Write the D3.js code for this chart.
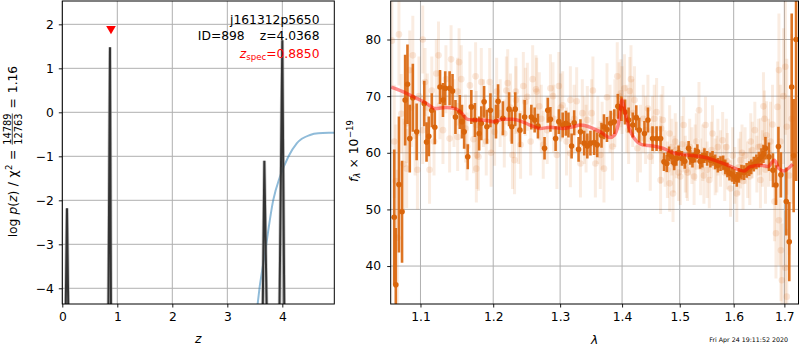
<!DOCTYPE html>
<html><head><meta charset="utf-8">
<script src="https://cdn.jsdelivr.net/npm/d3@7"></script>
<style>
body{margin:0;background:#fff;}
text{font-family:"DejaVu Sans",sans-serif;fill:#000;}
</style></head><body>
<svg id="c" width="800" height="350"></svg>
<script>
// ---------------- data ----------------
// left panel: log p(z)
const pzZ   = [0.00, 0.055, 0.062, 0.085, 0.109, 0.12, 0.83, 0.838, 0.867, 0.885, 0.90, 3.62, 3.644, 3.673, 3.716, 3.73, 3.93, 3.948, 4.00, 4.036, 4.05, 4.95];
const pzLog = [-12, -12, -4.5, -2.18, -4.5, -12, -12, -4.5, 1.48, -4.5, -12, -12, -4.5, -1.10, -4.5, -12, -12, -4.5, 1.64, -4.5, -12, -12];
// left panel: chi2 curve
const chiZ   = [3.45, 3.553, 3.685, 3.836, 3.958, 4.109, 4.262, 4.504, 4.655, 4.927, 4.95];
const chiLog = [-6.0, -4.34, -3.20, -1.99, -1.46, -1.01, -0.705, -0.516, -0.477, -0.464, -0.463];
const zspecZ = 0.885, zspecMark = 1.9;
const zTicks = [0, 1, 2, 3, 4];
const logTicks = [-4, -3, -2, -1, 0, 1, 2];

// right panel: spectrum
const lightLam = [1.063,1.072,1.066,1.070,1.068,1.075,1.078,1.082,1.082,1.086,1.090,1.093,1.096,1.098,
1.103,1.103,1.106,1.109,1.112,1.115,1.118,1.124,1.126,1.130,1.134,1.139,1.141,1.145,1.150,1.150,1.155,1.161,1.163,1.167,1.172,1.175,1.176,1.177,1.179,1.176,
1.183,1.186,1.190,1.195,1.198,1.202,1.205,1.210,1.216,1.221,1.225,1.228,1.231,1.233,1.233,1.237,1.240,1.244,1.250,1.255,1.263,1.264,1.268,1.274,1.280,1.285,1.290,1.295,1.298,
1.304,1.310,1.316,1.316,1.322,1.326,1.332,1.338,1.341,1.343,1.350,1.356,1.360,1.364,1.370,1.375,1.380,1.384,1.388,1.392,1.398,1.400,1.404,1.408,1.411,1.413,1.418,1.421,1.426,1.431,1.436,1.444,1.448,1.452,1.459,1.466,1.466,1.467,1.470,
1.474,1.478,1.482,1.482,1.486,1.488,1.490,1.494,1.498,1.501,1.504,1.507,1.510,1.514,1.518,1.522,1.526,1.530,1.535,1.538,1.542,1.547,1.550,1.554,1.558,1.560,1.565,1.570,1.575,1.579,1.583,1.588,1.594,1.598,1.602,1.606,1.610,1.613,1.618,1.622,1.627,1.631,1.636,1.641,1.645,
1.648,1.652,1.652,1.656,1.658,1.662,1.664,1.668,1.672,1.676,1.680,1.683,1.686,1.689,1.689,1.692,1.693,1.695,1.698,1.702,1.702,1.705,1.705,1.710,1.715,
1.088,1.121,1.152,1.197,1.219,1.247,1.258,1.271,1.289,1.301,1.335,1.352,1.367,1.395,1.415,1.440,1.455,1.492,1.512,1.528,1.544,1.568,1.586,1.616,1.633,1.660];
const lightFlux = [79.8,80.9,62,45,55,66.9,58,65.2,57.2,74.6,77.2,63,57,70,
80.0,64.0,72.5,68,57.0,71,62,77.2,68.4,64,73,62.5,76.5,67,70.8,62.8,73,64.3,61.1,71.9,62.4,73.5,64.9,59.6,59.3,57.2,
72.5,67,62,72.5,66,63.7,70.8,67,63.4,72.3,68,59.6,58.7,70.8,69.3,64,61.4,71.8,69.9,62,71.2,70.8,68.2,61.4,64,71.4,66,59.6,71.8,
68.4,62,69.3,59.9,66,69.1,58.1,64,62.5,65.8,67,58.1,64,59.6,57.2,69.8,66,61.1,67,73.5,70.5,69.3,71.4,66,64.0,70.9,67,69.3,60.8,62.5,66,67.8,59.3,64,67.2,60.5,55.2,64.3,65.8,
59,57,63.4,54.6,61,52.8,58,60.5,56.5,55.8,61.5,64.9,58,56.5,61,59.5,55.8,62,67.5,57.5,60,64.9,57,55.2,60.5,63.4,57.5,61,59,62.2,56.5,58.5,53.7,59.5,56,52.8,57.5,58.7,55,59.5,57,55.8,60.5,64.0,58,
61,61.1,55.2,59,68.2,57,63.1,60,62,65,51.4,45.8,68.1,74.6,48.1,62,42.8,37.5,70,75.2,39.7,64.6,34.6,56,66,
68,74,76,60,71,69,73,66,70,68,67,71,63,70,73,64,66,62,57,60,56,58,61,60,62,66];
const lightErr = [8,9,10,12,10,7,8,7,7,7,7,7,7,7,
6,6,6,6,6,6,6,6,6,6,6,6,6,6,6,6,6,6,6,6,6,6,6,6,6,6,
6,6,6,6,6,6,6,6,6,6,6,6,6,6,6,6,6,6,6,6,6,6,6,6,6,6,6,6,6,
6,6,6,6,6,6,6,6,6,6,6,6,6,6,6,6,6,6,6,6,6,6,6,6,6,6,6,6,6,6,6,6,6,6,6,6,6,6,6,
5,5,5,5,5,5,5,5,5,5,5,5,5,5,5,5,5,5,5,5,5,5,5,5,5,5,5,5,5,5,5,5,5,5,5,5,5,5,5,5,5,5,5,5,5,
5,5,5,5,6,6,6,6,7,7,7,8,8,10,8,10,9,10,12,12,10,12,12,14,15,
7,6,6,6,6,6,6,6,6,6,6,6,6,6,6,6,6,5,5,5,5,5,5,5,5,5];

const binLam = [1.066,1.068,1.072,1.076,1.080,1.083,1.086,1.090,1.095,1.105,1.108,1.111,1.115,1.119,1.126,1.130,1.133,1.139,1.143,1.147,1.153,1.156,1.159,1.164,1.169,1.174,1.180,1.183,1.187,1.191,1.196,1.204,1.207,1.214,1.223,1.227,1.232,1.239,1.246,
1.256,1.261,1.266,1.276,1.281,1.285,1.293,1.298,1.304,1.309,1.313,1.318,1.322,1.329,1.332,1.338,1.343,1.348,1.354,1.359,1.366,1.370,1.375,1.381,1.387,1.393,1.399,1.405,1.411,1.418,1.424,1.429,1.438,1.444,1.452,1.459,1.466,
1.472,1.477,1.481,1.486,1.490,1.494,1.498,1.504,1.509,1.516,1.519,1.523,1.528,1.532,1.537,1.541,1.545,1.550,1.556,1.560,1.565,1.570,1.575,1.580,1.584,1.588,1.592,1.597,1.601,1.606,1.610,1.615,1.620,1.625,1.630,1.634,1.639,1.644,1.649,1.654,1.658,
1.662,1.669,1.677,1.683,1.688,1.693,1.704,1.710,1.715,1.719,1.724];
const binFlux = [48.6,36.7,54.4,49.6,69.3,72.1,62.5,69.7,63.7,68.7,61.9,62.9,67.5,64.5,71.6,69.3,71.4,71.4,70.9,66.3,67.2,65.5,63.7,59.3,68.1,65.8,63.4,65.2,69.0,64.6,67.5,65.5,69.1,66.1,67.7,64.6,67.7,64.0,66.3,
66.3,65.8,64.7,60.8,67.5,65.9,62.5,65.5,64.9,65.2,64.9,61.2,65.3,60.6,63.7,61.7,61.2,61.7,61.8,61.4,63.1,64.6,64.1,65.2,65.5,68.2,67.8,67.2,65.8,64.9,66.2,64.0,63.4,65.8,62.5,62.5,62.5,
58.4,58.1,59.8,59.3,58.2,59.0,60.0,59.0,58.5,60.8,59.2,58.7,59.6,60.2,58.5,58.7,59.5,59.0,58.7,59.0,58.4,57.8,58.1,58.2,57.5,57.0,56.4,56.2,55.8,55.3,56.0,56.6,56.5,56.9,57.2,57.5,58.0,58.4,58.8,59.3,59.8,
60.8,59.3,56.9,54.3,61.1,56.1,51.4,44.3,71.6,59.5,80];
const binErr = [12,10,12,9,8,7,6,6,5,4,3.5,3.5,3,3,3,3,3,3,3,3,3,3,3,2.2,3,3,3,3,2.8,3,3,3,3,3,3,3,3,3,3,
2.2,2.2,2.2,2,2.2,2.2,2.2,2.2,2.2,2.2,2.2,2.2,2.2,2.2,2.2,2.2,2.2,2.2,2.2,2.2,2.2,2.2,2.2,2.2,2.2,2.2,2.2,2.2,2.2,2.2,2.2,2.2,2.2,2.2,2.2,2.2,2.2,
1.6,1.5,1.3,1.3,1.3,1.3,1.3,1.3,1.3,1.3,1.3,1.3,1.3,1.3,1.3,1.3,1.3,1.3,1.3,1.3,1.3,1.3,1.3,1.3,1.3,1.3,1.3,1.3,1.3,1.3,1.3,1.3,1.3,1.3,1.3,1.3,1.3,1.3,1.4,1.5,1.6,
2,2.5,3,3.5,3.5,4,6,7,13,10,25];

const modelLam  = [1.062,1.077,1.095,1.107,1.120,1.134,1.147,1.154,1.164,1.174,1.185,1.200,1.214,1.228,1.242,1.254,1.269,1.285,1.304,1.320,1.332,1.348,1.364,1.380,1.387,1.394,1.400,1.405,1.411,1.421,1.435,1.452,1.470,1.488,1.513,1.545,1.563,1.589,1.620,1.631,1.652,1.667,1.680,1.689,1.698,1.717];
const modelFlux = [71.6,70.8,69.6,68.8,67.8,68.0,67.8,67.2,65.9,65.8,65.8,65.5,65.9,65.9,65.5,64.9,64.3,64.5,64.3,64.6,64.9,64.5,63.7,62.7,63.1,65.2,69.3,67.2,64.6,62.5,61.4,61.2,60.8,60.0,59.6,59.2,58.7,57.8,56.8,57.5,57.8,57.6,58.7,57.2,56.8,58.0];
const lamTicks  = [1.1, 1.2, 1.3, 1.4, 1.5, 1.6, 1.7];
const fluxTicks = [40, 50, 60, 70, 80];

// ---------------- drawing ----------------
const svg = d3.select('#c');
const FS = 12.3;
const L = {x0: 62.3, x1: 334.3, y0: 1, y1: 304};
const R = {x0: 390.7, x1: 798.5, y0: 1, y1: 304};

const xz = d3.scaleLinear().domain([0, 4.945]).range([L.x0, L.x1]);
const yz = d3.scaleLinear().domain([-4.357, 2.53]).range([L.y1, L.y0]);
const xl = d3.scaleLog().domain([1.0615, 1.729]).range([R.x0, R.x1]);
const yf = d3.scaleLinear().domain([33.3, 86.8]).range([R.y1, R.y0]);

const defs = svg.append('defs');
defs.append('clipPath').attr('id','clipL').append('rect')
  .attr('x', L.x0).attr('y', L.y0).attr('width', L.x1-L.x0).attr('height', L.y1-L.y0);
defs.append('clipPath').attr('id','clipR').append('rect')
  .attr('x', R.x0).attr('y', R.y0).attr('width', R.x1-R.x0).attr('height', R.y1-R.y0);

function grid(box, xs, ys, xt, yt) {
  const g = svg.append('g');
  g.selectAll('.gx').data(xt).join('line')
    .attr('x1', d => xs(d)).attr('x2', d => xs(d)).attr('y1', box.y0).attr('y2', box.y1)
    .attr('stroke', '#b0b0b0').attr('stroke-width', 1);
  g.selectAll('.gy').data(yt).join('line')
    .attr('y1', d => ys(d)).attr('y2', d => ys(d)).attr('x1', box.x0).attr('x2', box.x1)
    .attr('stroke', '#b0b0b0').attr('stroke-width', 1);
}
grid(L, xz, yz, zTicks, logTicks);
grid(R, xl, yf, lamTicks, fluxTicks);

// ---- left panel marks
const gL = svg.append('g').attr('clip-path', 'url(#clipL)');
const chiData = chiZ.map((z, i) => [z, chiLog[i]]);
gL.append('path').datum(chiData)
  .attr('d', d3.line().x(d => xz(d[0])).y(d => yz(d[1])).curve(d3.curveMonotoneX))
  .attr('fill', 'none').attr('stroke', '#1f77b4').attr('stroke-opacity', 0.5).attr('stroke-width', 2);
const pzData = pzZ.map((z, i) => [z, pzLog[i]]);
gL.append('path').datum(pzData)
  .attr('d', d3.line().x(d => xz(d[0])).y(d => yz(d[1])))
  .attr('fill', 'none').attr('stroke', '#888').attr('stroke-opacity', 0.5).attr('stroke-width', 3.5);
gL.append('path').datum(pzData)
  .attr('d', d3.line().x(d => xz(d[0])).y(d => yz(d[1])))
  .attr('fill', 'none').attr('stroke', '#333').attr('stroke-width', 2);
svg.append('path')
  .attr('d', d3.symbol().type(d3.symbolTriangle).size(40)())
  .attr('transform', `translate(${xz(zspecZ)},${yz(zspecMark)}) rotate(180)`)
  .attr('fill', 'red');

// ---- right panel marks
const gR = svg.append('g').attr('clip-path', 'url(#clipR)');
const COL = '#d9650b';
const light = lightLam.map((l, i) => ({l, f: lightFlux[i], e: lightErr[i]}));
gR.selectAll('.le').data(light).join('line')
  .attr('x1', d => xl(d.l)).attr('x2', d => xl(d.l))
  .attr('y1', d => yf(d.f - d.e)).attr('y2', d => yf(d.f + d.e))
  .attr('stroke', COL).attr('stroke-opacity', 0.12).attr('stroke-width', 3);
gR.selectAll('.lc').data(light).join('circle')
  .attr('cx', d => xl(d.l)).attr('cy', d => yf(d.f)).attr('r', 3.3)
  .attr('fill', COL).attr('fill-opacity', 0.14);
const bins = binLam.map((l, i) => ({l, f: binFlux[i], e: binErr[i]}));
gR.selectAll('.be').data(bins).join('line')
  .attr('x1', d => xl(d.l)).attr('x2', d => xl(d.l))
  .attr('y1', d => yf(d.f - d.e)).attr('y2', d => yf(d.f + d.e))
  .attr('stroke', COL).attr('stroke-opacity', 0.9).attr('stroke-width', 2.6);
gR.selectAll('.bc').data(bins).join('circle')
  .attr('cx', d => xl(d.l)).attr('cy', d => yf(d.f)).attr('r', 2.8)
  .attr('fill', COL);
const model = modelLam.map((l, i) => [l, modelFlux[i]]);
gR.append('path').datum(model)
  .attr('d', d3.line().x(d => xl(d[0])).y(d => yf(d[1])).curve(d3.curveMonotoneX))
  .attr('fill', 'none').attr('stroke', 'red').attr('stroke-opacity', 0.45).attr('stroke-width', 3.5);

// ---- axes
function styleAxis(g) {
  g.selectAll('path.domain').remove();
  g.selectAll('line').attr('stroke', '#000').attr('stroke-width', 0.9);
  g.selectAll('text').style('font-size', FS + 'px').attr('fill', '#000')
    .style('font-family', '"DejaVu Sans",sans-serif');
}
svg.append('g').attr('transform', `translate(0,${L.y1})`)
  .call(d3.axisBottom(xz).tickValues(zTicks).tickSize(3.5).tickPadding(5).tickFormat(d3.format('d')))
  .call(styleAxis);
svg.append('g').attr('transform', `translate(${L.x0},0)`)
  .call(d3.axisLeft(yz).tickValues(logTicks).tickSize(3.5).tickPadding(5).tickFormat(d3.format('d')))
  .call(styleAxis);
svg.append('g').attr('transform', `translate(0,${R.y1})`)
  .call(d3.axisBottom(xl).tickValues(lamTicks).tickSize(3.5).tickPadding(5).tickFormat(d3.format('.1f')))
  .call(styleAxis);
svg.append('g').attr('transform', `translate(${R.x0},0)`)
  .call(d3.axisLeft(yf).tickValues(fluxTicks).tickSize(3.5).tickPadding(6).tickFormat(d3.format('d')))
  .call(styleAxis);

[L, R].forEach(b => svg.append('rect').attr('x', b.x0).attr('y', b.y0)
  .attr('width', b.x1 - b.x0).attr('height', b.y1 - b.y0)
  .attr('fill', 'none').attr('stroke', '#000').attr('stroke-width', 1));

// ---- texts
function txt(x, y, s, opt = {}) {
  const t = svg.append('text').attr('x', x).attr('y', y).style('font-size', (opt.size || FS) + 'px')
    .attr('text-anchor', opt.anchor || 'start');
  if (opt.fill) t.style('fill', opt.fill);
  if (opt.italic) t.style('font-style', 'italic');
  t.text(s);
  return t;
}
txt(319.5, 24, 'j161312p5650', {anchor: 'end'});
const idt = svg.append('text').attr('x', 319.5).attr('y', 39.5).attr('text-anchor', 'end')
  .style('font-size', FS + 'px');
idt.append('tspan').text('ID=898');
idt.append('tspan').attr('dx', 15).text('z=4.0368');
const zs = svg.append('text').attr('x', 319.5).attr('y', 57.5).attr('text-anchor', 'end')
  .style('font-size', FS + 'px').style('fill', 'red');
zs.append('tspan').style('font-style', 'italic').text('z');
zs.append('tspan').attr('dy', 2.5).style('font-size', '8.6px').text('spec');
zs.append('tspan').attr('dy', -2.5).text('=0.8850');

txt(198.3, 343, 'z', {anchor: 'middle', italic: true});
txt(594.6, 344, 'λ', {anchor: 'middle', italic: true});
txt(788, 342, 'Fri Apr 24 19:11:52 2020', {anchor: 'end', size: 6.3});

// sequential rotated label builder (explicit gaps instead of spaces)
function seqLabel(cx, cy, pieces) {
  const g = svg.append('g').attr('transform', `translate(${cx},${cy}) rotate(-90)`);
  const inner = g.append('g');
  let x = 0;
  pieces.forEach(p => {
    x += p.gap || 0;
    if (p.frac) {
      const a = inner.append('text').attr('x', x).attr('y', -5.8).style('font-size', p.size + 'px').text(p.num);
      const b = inner.append('text').attr('x', x).attr('y', 5.2).style('font-size', p.size + 'px').text(p.den);
      const w = Math.max(a.node().getComputedTextLength(), b.node().getComputedTextLength());
      inner.append('line').attr('x1', x).attr('x2', x + w).attr('y1', -4.2).attr('y2', -4.2)
        .attr('stroke', '#000').attr('stroke-width', 0.7);
      x += w;
    } else {
      const t = inner.append('text').attr('x', x).attr('y', p.dy || 0)
        .style('font-size', (p.size || FS) + 'px').text(p.t);
      if (p.italic) t.style('font-style', 'italic');
      x += t.node().getComputedTextLength();
    }
  });
  const bb = inner.node().getBBox();
  inner.attr('transform', `translate(${-(bb.x + bb.width / 2)},0)`);
}
seqLabel(16.5, 151.5, [
  {t: 'log'}, {t: 'p', italic: true, gap: 4}, {t: '('}, {t: 'z', italic: true}, {t: ')'},
  {t: '/', gap: 4.5}, {t: 'χ', gap: 4.5},
  {t: '2', size: 8.6, dy: -4.5, gap: 0.5}, {t: '=', gap: 4.5},
  {frac: true, num: '14789', den: '12763', size: 9.8, gap: 5},
  {t: '=', gap: 5}, {t: '1.16', gap: 5}
]);
seqLabel(357.5, 151, [
  {t: 'f', italic: true}, {t: 'λ', italic: true, size: 8.6, dy: 2.5}, {t: '×', gap: 4},
  {t: '10', gap: 4}, {t: '−19', size: 8.6, dy: -4.5, gap: 0.5}
]);
</script>
</body></html>
